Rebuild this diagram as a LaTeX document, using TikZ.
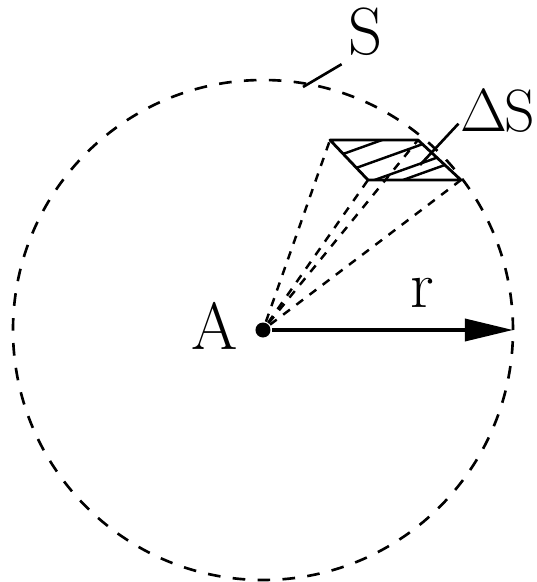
\documentclass[tikz,border=0pt]{standalone}
\usetikzlibrary{arrows.meta,calc}
\tikzset{
  every picture/.style={line width=0.75pt, line join=round},
  every node/.style={font=\fontsize{19}{22}\selectfont, inner sep=0pt},
  % Linientypen
  sphere/.style={line width=0.75pt, dash pattern=on 3.6pt off 3.5pt},
  ray/.style={line width=0.7pt, dash pattern=on 2.4pt off 2.3pt},
  radius/.style={line width=1pt, -{Triangle[length=4.8mm,width=2.2mm]}},
  patch/.style={line width=0.8pt},
  hatch/.style={line width=0.7pt},
  leader/.style={line width=0.75pt},
  % Punkt A
  dot/.style={circle, fill, inner sep=0pt, minimum size=1.5mm},
}
\begin{document}
\begin{tikzpicture}
  \useasboundingbox (-2.63,-2.52) rectangle (2.74,3.30);
  % Kugelfläche S um A
  \node[dot] (A) at (0,0) {};
  \draw[sphere] (A.center) circle (2.5);
  % Flächenelement Delta S
  \coordinate (P1) at (0.67,1.90);
  \coordinate (P2) at (1.55,1.90);
  \coordinate (P3) at (1.98,1.50);
  \coordinate (P4) at (1.05,1.50);
  \draw[patch] (P1) -- (P2) -- (P3) -- (P4) -- cycle;
  \begin{scope}
    \clip (P1) -- (P2) -- (P3) -- (P4) -- cycle;
    \foreach \x/\y in {0.80/1.76, 0.93/1.62, 1.06/1.48, 1.40/1.50}
      \draw[hatch] (\x,\y) -- ++(1.2,0.43);
  \end{scope}
  % Strahlen von A
  \foreach \p in {P1,P2,P3,P4}
    \draw[ray] (A) -- (\p);
  % Radius r
  \coordinate (R) at (2.5,0);
  \draw[radius] (A) -- (R);
  % Beschriftung
  \node (lA) at (-0.48,0.04) {A};
  \node (lr) at (1.59,0.37) {r};
  \node (lS) at (1.03,2.98) {S};
  \node[anchor=east, font=\fontsize{17}{20}\selectfont] (ldS) at (2.73,2.19) {$\Delta$\kern-1pt S};
  \coordinate (sS) at (0.40,2.43);
  \coordinate (sdS) at (1.57,1.65);
  \draw[leader] ($(lS.south west)+(-0.06,-0.07)$) -- (sS);
  \draw[leader] ($(ldS.south west)+(-0.01,0.10)$) -- (sdS);
\end{tikzpicture}
\end{document}
